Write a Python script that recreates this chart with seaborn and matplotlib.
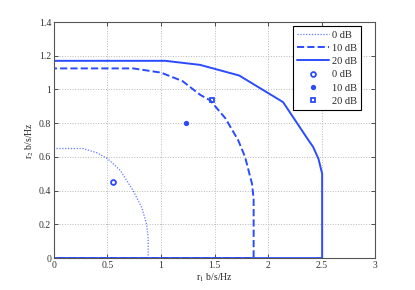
import numpy as np
import pandas as pd
import matplotlib
matplotlib.use('Agg')
import matplotlib.pyplot as plt
import seaborn as sns

# region boundaries (r1, r2)
r1_0db = [0, 0, 0.27, 0.40, 0.50, 0.62, 0.74, 0.82, 0.866, 0.88, 0.88, 0]
r2_0db = [0, 0.65, 0.65, 0.625, 0.59, 0.52, 0.40, 0.30, 0.20, 0.12, 0, 0]

r1_10db = [0, 0, 0.74, 1.0, 1.20, 1.364, 1.46, 1.60, 1.72, 1.785, 1.85, 1.865, 1.865, 0]
r2_10db = [0, 1.125, 1.125, 1.10, 1.05, 0.969, 0.935, 0.83, 0.70, 0.60, 0.44, 0.35, 0, 0]

r1_20db = [0, 0, 1.04, 1.364, 1.73, 2.14, 2.376, 2.42, 2.47, 2.505, 2.505, 0]
r2_20db = [0, 1.17, 1.17, 1.146, 1.083, 0.925, 0.70, 0.66, 0.59, 0.50, 0, 0]

pt_labels = ['0 dB', '10 dB', '20 dB']
pt_r1 = [0.554, 1.23, 1.48]
pt_r2 = [0.454, 0.803, 0.935]

blue = '#2b4bff'

sns.set_style('ticks')
plt.rcParams['font.family'] = ['Liberation Serif', 'DejaVu Serif']
plt.rcParams['mathtext.fontset'] = 'stix'

fig, ax = plt.subplots(figsize=(4.15, 2.90), dpi=100)
fig.subplots_adjust(left=0.130, right=0.904, top=0.924, bottom=0.110)

curves = [(r1_0db, r2_0db, (0, (1, 1.3)), 0.9, '0 dB'),
          (r1_10db, r2_10db, '--', 1.4, '10 dB'),
          (r1_20db, r2_20db, '-', 1.4, '20 dB')]
for xs, ys, ls, lw, lab in curves:
    df = pd.DataFrame({'r1': xs, 'r2': ys})
    sns.lineplot(data=df, x='r1', y='r2', sort=False, estimator=None, ax=ax,
                 color=blue, linestyle=ls, linewidth=lw, label=lab,
                 alpha=0.75 if lab == '0 dB' else 1)

markers = ['o', '.', 's']
sizes = [3.5, 5, 3.5]
for i in range(3):
    fill = blue if markers[i] == '.' else 'none'
    ax.plot([pt_r1[i]], [pt_r2[i]], linestyle='none', marker=markers[i],
            markersize=sizes[i], markerfacecolor=fill, markeredgecolor=blue,
            markeredgewidth=1.3, label=pt_labels[i])

ax.set_xlim(0, 3)
ax.set_ylim(0, 1.4)
ax.set_xticks([0, 0.5, 1, 1.5, 2, 2.5, 3])
ax.set_xticklabels(['0', '0.5', '1', '1.5', '2', '2.5', '3'])
ax.set_yticks([0, 0.2, 0.4, 0.6, 0.8, 1, 1.2, 1.4])
ax.set_yticklabels(['0', '0.2', '0.4', '0.6', '0.8', '1', '1.2', '1.4'])
ax.grid(True, linestyle=':', color='#b8b8b8', linewidth=0.7)
ax.tick_params(direction='in', top=True, right=True, labelsize=7, length=3,
               width=0.6, colors='#333333', pad=2)
for s in ax.spines.values():
    s.set_visible(True)
    s.set_linewidth(0.8)
    s.set_color('#555555')

ax.set_xlabel(r'r$_1$ b/s/Hz', fontsize=7, labelpad=1)
ax.set_ylabel(r'r$_2$ b/s/Hz', fontsize=7, labelpad=2)

leg = ax.legend(loc='upper right', fontsize=7.5, frameon=True, fancybox=False,
                edgecolor='black', framealpha=1, handlelength=3.0,
                handletextpad=0.3, labelspacing=0.38, borderpad=0.4,
                borderaxespad=0, bbox_to_anchor=(0.956, 0.983))
leg.get_frame().set_linewidth(0.8)

fig.savefig('out.png', dpi=100)
